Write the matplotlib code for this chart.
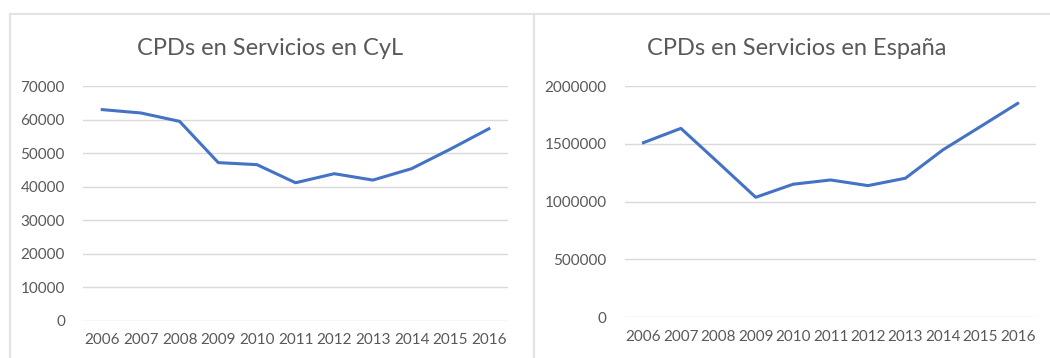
import numpy as np
import matplotlib.pyplot as plt
from matplotlib.lines import Line2D

plt.rcParams['font.family'] = ['Lato', 'DejaVu Sans']

years = ['2006', '2007', '2008', '2009', '2010', '2011', '2012', '2013', '2014', '2015', '2016']
cyl_values = [63000, 62000, 59500, 47200, 46600, 41200, 43900, 42000, 45400, 51200, 57300]
esp_values = [1510000, 1634000, 1337000, 1037000, 1150000, 1187000, 1138000, 1202000, 1447000, 1648000, 1850000]

cyl_title = 'CPDs en Servicios en CyL'
esp_title = 'CPDs en Servicios en España'
cyl_ticks = np.arange(0, 70001, 10000)
esp_ticks = np.arange(0, 2000001, 500000)

line_color = '#4472C4'
text_color = '#595959'
grid_color = '#D9D9D9'
border_color = '#E3E3E3'

fig = plt.figure(figsize=(10.5, 3.58), dpi=100)
fig.patch.set_facecolor('white')

def style_axes(ax, values, yticks, title, title_x):
    x = np.arange(len(years))
    ax.plot(x, values, color=line_color, linewidth=2.2, solid_joinstyle='round', zorder=3)
    ax.set_xlim(-0.5, len(years) - 0.5)
    ax.set_ylim(yticks[0], yticks[-1])
    ax.set_yticks(yticks)
    ax.set_yticklabels([str(int(t)) for t in yticks])
    ax.set_xticks(x)
    ax.set_xticklabels(years)
    ax.grid(axis='y', color=grid_color, linewidth=1.0, zorder=0)
    ax.set_axisbelow(True)
    for s in ax.spines.values():
        s.set_visible(False)
    ax.tick_params(axis='both', length=0, colors=text_color, labelsize=11)
    ax.tick_params(axis='y', pad=13)
    ax.tick_params(axis='x', pad=9)
    fig.text(title_x, 0.865, title, ha='center', va='center', fontsize=17, color=text_color)

ax1 = fig.add_axes([0.079, 0.1034, 0.405, 0.656])
style_axes(ax1, cyl_values, cyl_ticks, cyl_title, 270 / 1050)

ax2 = fig.add_axes([0.595, 0.1145, 0.392, 0.645])
style_axes(ax2, esp_values, esp_ticks, esp_title, 797 / 1050)

# panel borders
fig.add_artist(Line2D([10 / 1050, 1], [1 - 14 / 358, 1 - 14 / 358], color=border_color, linewidth=1.5))
fig.add_artist(Line2D([10 / 1050, 10 / 1050], [0, 1 - 14 / 358], color=border_color, linewidth=1.5))
fig.add_artist(Line2D([534 / 1050, 534 / 1050], [0, 1 - 14 / 358], color=border_color, linewidth=1.5))

fig.savefig('out.png', dpi=100, facecolor='white')
